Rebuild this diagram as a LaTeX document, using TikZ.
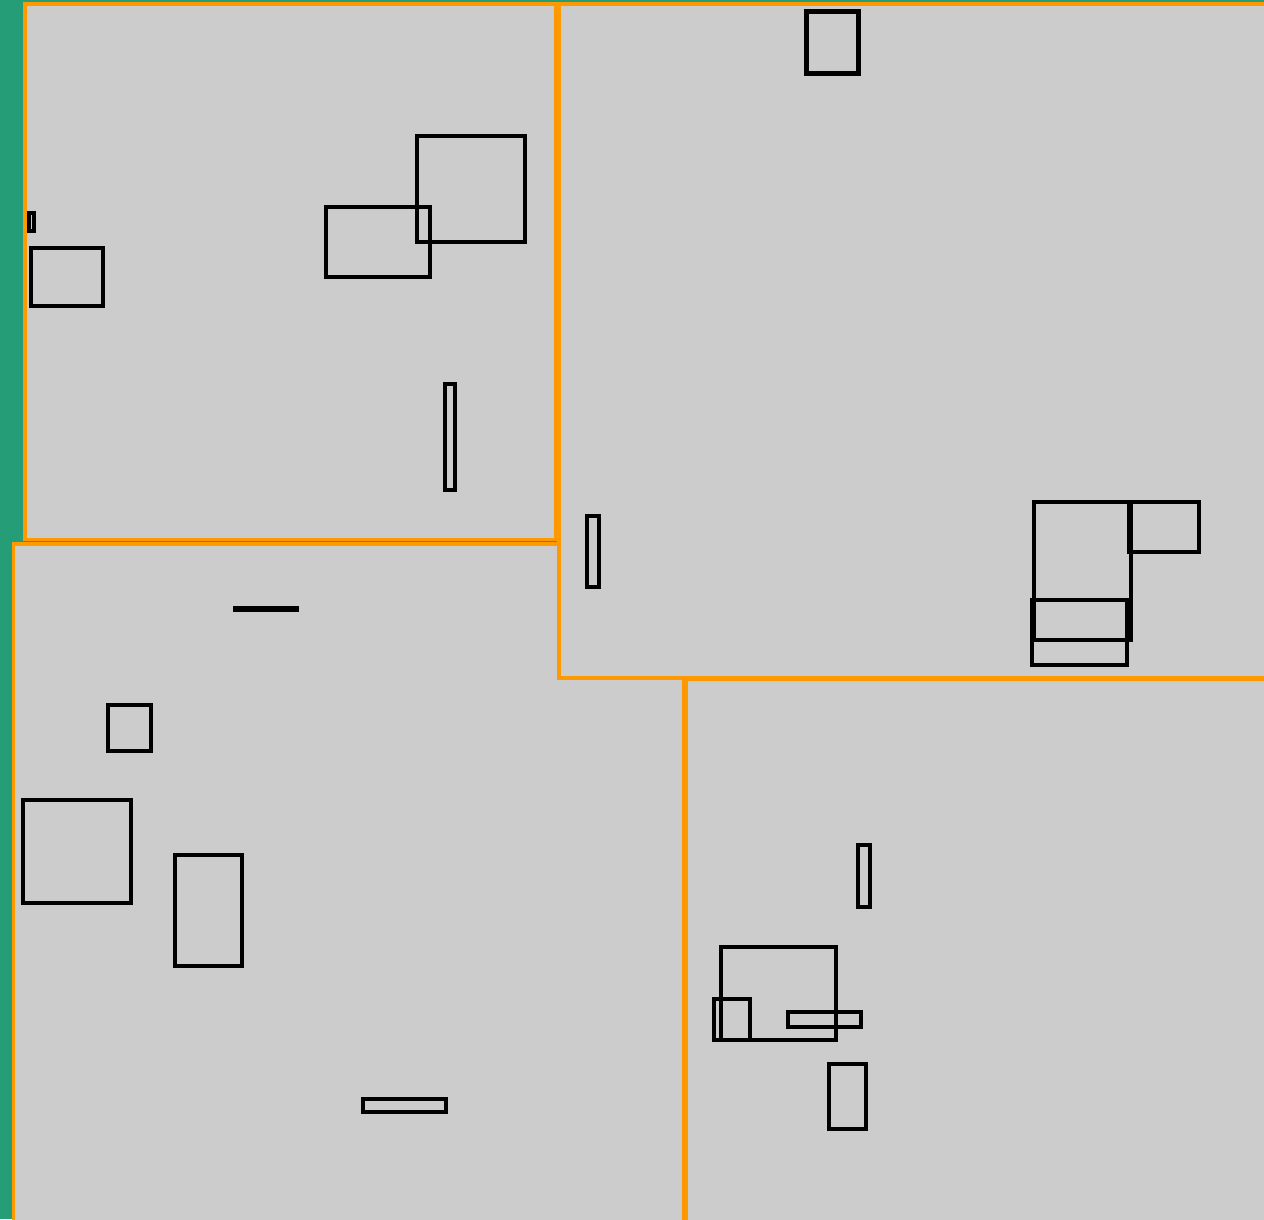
\documentclass[tikz,border=0pt]{standalone}
\definecolor{bggreen}{RGB}{37,157,119}
\definecolor{panelgray}{RGB}{204,204,204}
\definecolor{borderorange}{RGB}{255,153,0}
\begin{document}
\begin{tikzpicture}[x=1pt,y=-1pt,
  panel/.style={fill=panelgray,draw=borderorange,line width=3.6pt},
  box/.style={draw=black,line width=4pt}]
\useasboundingbox (0,0) rectangle (1264,1219);
\clip (0,0) rectangle (1264,1219);
\fill[bggreen] (0,0) rectangle (1264,1219);
% panels
\draw[panel] (13.3,544) rectangle (683.5,1226);
\draw[panel] (686,679) rectangle (1270,1226);
\draw[panel] (559,4) rectangle (1270,678);
\draw[panel] (25,3.7) rectangle (555.5,539.5);
% panel A boxes
\draw[box] (417,136.3) rectangle (525.3,242);
\draw[box] (326,206.7) rectangle (430,277.3);
\draw[box] (28.8,212.8) rectangle (33.5,231.2);
\draw[box] (31,248) rectangle (103,306);
\draw[box] (444.7,384.3) rectangle (454.7,489.7);
% panel B boxes
\draw[box,line width=5pt] (806.5,11.5) rectangle (858,73.5);
\draw[box] (587.3,515.7) rectangle (598.7,587);
\draw[box] (1034,501.5) rectangle (1131,639.5);
\draw[box] (1128.5,501.5) rectangle (1198.5,551.5);
\draw[box] (1031.7,599.7) rectangle (1127,665);
% panel C boxes
\draw[box] (235.3,608) rectangle (297.3,609.5);
\draw[box] (108.3,704.5) rectangle (151,751);
\draw[box] (23,799.5) rectangle (130.5,903);
\draw[box] (175,854.5) rectangle (241.7,966);
\draw[box] (363,1099) rectangle (446,1112);
% panel D boxes
\draw[box] (858,845) rectangle (870,907);
\draw[box] (720.5,947) rectangle (836,1040);
\draw[box] (713.7,998.7) rectangle (749.7,1040.3);
\draw[box] (788,1011.5) rectangle (861,1027);
\draw[box] (829,1064) rectangle (866,1129);
\end{tikzpicture}
\end{document}
